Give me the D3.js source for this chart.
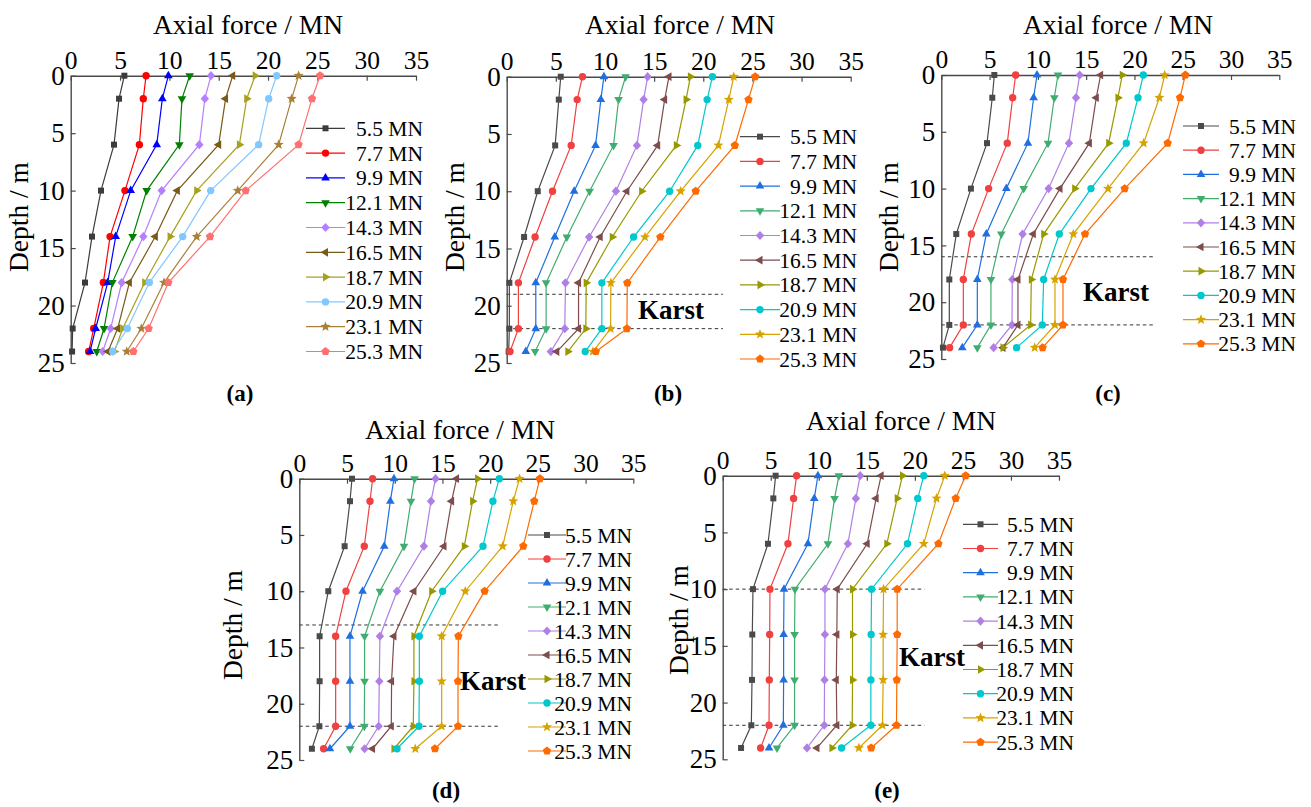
<!DOCTYPE html>
<html><head><meta charset="utf-8">
<script src="https://cdn.jsdelivr.net/npm/d3@7"></script>
<style>
body{margin:0;background:#fff}
svg{display:block}
text{font-family:"Liberation Serif","Times New Roman",serif;fill:#000}
</style>
</head><body>
<svg id="chart" width="1311" height="807"></svg>
<script>
// ---------- data ----------
const depths = [0, 2, 6, 10, 14, 18, 22, 24];
const loads = ["5.5 MN","7.7 MN","9.9 MN","12.1 MN","14.3 MN","16.5 MN","18.7 MN","20.9 MN","23.1 MN","25.3 MN"];
const xTicks = [0, 5, 10, 15, 20, 25, 30, 35];
const yTicks = [0, 5, 10, 15, 20, 25];
const panelTags = ["(a)", "(b)", "(c)", "(d)", "(e)"];

const forceA = [
 [5.44,4.9,4.39,3.07,2.16,1.45,0.2,0.14],
 [7.64,7.36,6.96,5.5,3.99,3.31,2.33,1.82],
 [9.9,9.29,8.72,6.08,4.56,3.75,2.53,1.96],
 [12.06,11.28,11.01,7.7,6.28,4.22,3.38,2.64],
 [14.22,13.6,13.04,9.22,7.36,5.17,4.05,3.24],
 [16.42,15.7,15.0,10.81,8.58,5.95,4.76,3.78],
 [18.7,17.84,17.1,12.77,10.07,7.5,5.27,4.43],
 [20.88,20.07,19.05,14.19,11.35,7.97,5.74,4.26],
 [23.1,22.4,21.08,16.93,12.77,9.46,7.16,5.68],
 [25.27,24.46,23.1,17.74,14.12,9.9,7.9,6.35]
];
const forceB = [
 [5.5,5.3,4.93,3.16,1.77,0.27,0.27,0.2],
 [7.71,7.17,6.56,4.66,2.89,1.19,1.19,0.34],
 [9.89,9.58,9.04,6.86,4.89,2.96,2.96,1.94],
 [12.1,11.38,10.87,8.43,6.12,4.01,4.01,2.89],
 [14.34,13.93,13.25,11.11,8.39,5.98,5.91,4.49],
 [16.51,16.07,15.36,12.23,9.51,7.31,7.31,5.1],
 [18.69,18.25,17.26,13.73,10.74,8.09,8.05,6.22],
 [20.93,20.39,19.44,16.58,12.91,9.68,9.68,7.99],
 [23.1,22.6,21.54,17.7,14.07,10.6,10.57,8.77],
 [25.28,24.6,23.21,19.23,15.63,12.27,12.23,9.07]
];
const forceC = [
 [5.49,5.28,4.73,3.07,1.55,0.83,0.83,0.17],
 [7.7,7.39,6.83,4.9,3.11,2.28,2.28,0.86],
 [9.91,9.56,8.97,6.73,4.66,3.73,3.73,2.17],
 [12.08,11.7,11.05,8.53,6.21,5.14,5.14,3.73],
 [14.33,13.95,13.22,11.11,8.42,7.35,7.32,5.42],
 [16.5,16.05,15.33,12.29,9.53,7.94,7.94,6.39],
 [18.74,18.29,17.33,13.81,10.6,9.32,9.25,6.39],
 [20.92,20.37,19.16,15.5,12.22,10.6,10.46,7.8],
 [23.13,22.58,20.95,17.26,13.67,11.77,11.77,9.67],
 [25.27,24.72,23.44,18.99,14.88,12.6,12.6,10.49]
];
const forceD = [
 [5.52,5.31,4.75,3.04,2.13,2.13,2.10,1.32],
 [7.68,7.41,6.81,4.89,3.81,3.81,3.81,2.55],
 [9.92,9.54,8.90,6.63,5.31,5.31,5.31,3.21],
 [12.08,11.70,10.97,8.45,6.84,6.84,6.81,5.34],
 [14.28,13.80,13.06,10.24,8.45,8.38,8.32,6.84],
 [16.48,15.96,15.16,12.01,9.92,9.67,9.64,7.68],
 [18.68,18.16,17.29,13.87,12.01,12.01,11.94,9.92],
 [20.96,20.29,19.25,15.02,12.58,12.58,12.54,10.24],
 [23.08,22.42,21.31,17.39,14.92,14.92,14.92,12.15],
 [25.21,24.62,23.47,19.42,16.67,16.63,16.63,14.21]
];
const forceE = [
 [5.51,5.27,4.71,3.15,3.08,3.05,2.98,1.91],
 [7.69,7.38,6.79,4.92,4.89,4.85,4.82,3.95],
 [9.91,9.53,8.87,6.38,6.34,6.34,6.31,4.82],
 [12.09,11.64,10.95,7.52,7.48,7.48,7.48,5.65],
 [14.31,13.86,13.03,10.64,10.64,10.6,10.57,8.77],
 [16.49,15.97,15.04,11.92,11.88,11.82,11.88,9.81],
 [18.71,18.16,17.08,13.51,13.51,13.51,13.48,11.37],
 [20.93,20.3,19.23,15.49,15.45,15.42,15.42,12.37],
 [23.11,22.25,20.93,16.74,16.7,16.7,16.63,14.17],
 [25.29,24.25,22.45,18.16,18.16,18.12,18.09,15.45]
];
// karst layer depth bounds (m) and the force the dashed line reaches (MN)
const karstB = [19, 22], karstC = [16, 22], karstD = [13, 22], karstE = [10, 22];
const karstReach = [null, 22, 22, 21, 21];

// ---------- styles ----------
const colorsA = ["#3c3c3c","#ff0000","#0000ff","#008000","#b580ff","#7a5a18","#a8a020","#80c8ff","#a88038","#ff7070"];
const colorsBE = ["#4a4a4a","#f04040","#1f6fe0","#40ad70","#b07fe6","#7d4c4c","#989800","#00c8cc","#d6a300","#ff6a00"];
const markerTypes = ["square","circle","triUp","triDown","diamond","triLeft","triRight","circle","star","pentagon"];

function poly(n, R, a0){
  const pts=[];
  for(let i=0;i<n;i++){const a=a0+i*2*Math.PI/n; pts.push([R*Math.cos(a),R*Math.sin(a)]);}
  return "M"+pts.map(p=>p[0].toFixed(2)+","+p[1].toFixed(2)).join("L")+"Z";
}
function markerPath(t){
  const d=Math.PI/180;
  switch(t){
    case "square": return "M-3,-3H3V3H-3Z";
    case "circle": return d3.symbol(d3.symbolCircle, Math.PI*3.7*3.7)();
    case "triUp": return poly(3,5,-90*d);
    case "triDown": return poly(3,5,90*d);
    case "triLeft": return poly(3,5,180*d);
    case "triRight": return poly(3,5,0);
    case "diamond": return "M0,-4.6L4.2,0L0,4.6L-4.2,0Z";
    case "pentagon": return poly(5,4.4,-90*d);
    case "star": {
      const pts=[];
      for(let i=0;i<10;i++){const R=i%2?2.3:5.3;const a=-90*d+i*36*d;pts.push([R*Math.cos(a),R*Math.sin(a)]);}
      return "M"+pts.map(p=>p[0].toFixed(2)+","+p[1].toFixed(2)).join("L")+"Z";
    }
  }
}

const panels = [
 {data:forceA, colors:colorsA, x0:70.7, x1:416, y0:75.7, y1:363, karst:null,
  legend:{lx1:306,lx2:345,tx:423,y0:128.3,dy:24.8}, title:{x:248,y:34}, ylab:{x:28,y:217}, tag:{x:240,y:401}},
 {data:forceB, colors:colorsBE, x0:506.7, x1:850.7, y0:76.7, y1:363, karst:karstB, klabel:{x:671,y:319},
  legend:{lx1:740,lx2:780,tx:857,y0:136.7,dy:24.7}, title:{x:680,y:34}, ylab:{x:464,y:217}, tag:{x:668,y:401}},
 {data:forceC, colors:colorsBE, x0:941.3, x1:1279.3, y0:75, y1:359, karst:karstC, klabel:{x:1116,y:301},
  legend:{lx1:1183,lx2:1219,tx:1296,y0:126,dy:24.2}, title:{x:1118,y:34}, ylab:{x:898,y:217}, tag:{x:1108,y:401}},
 {data:forceD, colors:colorsBE, x0:299.3, x1:633.3, y0:478.7, y1:760, karst:karstD, klabel:{x:493,y:690},
  legend:{lx1:528,lx2:566,tx:632,y0:535,dy:24.0}, title:{x:460,y:439}, ylab:{x:242,y:625}, tag:{x:446,y:798}},
 {data:forceE, colors:colorsBE, x0:722.7, x1:1059, y0:475.7, y1:759.3, karst:karstE, klabel:{x:932,y:666},
  legend:{lx1:963,lx2:998,tx:1074,y0:524.3,dy:24.2}, title:{x:901,y:430}, ylab:{x:688,y:620}, tag:{x:887,y:798}}
];

const svg = d3.select("#chart");
const axisColor = "#4a4a4a";

panels.forEach((p, pi) => {
  const x = d3.scaleLinear().domain([0,35]).range([p.x0, p.x1]);
  const y = d3.scaleLinear().domain([0,25]).range([p.y0, p.y1]);
  const g = svg.append("g");

  // karst dashed lines
  if (p.karst) {
    g.selectAll(".karst").data(p.karst).join("line")
      .attr("x1", x(0)).attr("x2", x(karstReach[pi]))
      .attr("y1", d => y(d)).attr("y2", d => y(d))
      .attr("stroke", "#333").attr("stroke-width", 1).attr("stroke-dasharray", "3.5,3");
    g.append("text").attr("x", p.klabel.x).attr("y", p.klabel.y)
      .attr("text-anchor","middle").attr("font-size", 27).attr("font-weight","bold").text("Karst");
  }

  // axes
  const ax = g.append("g").attr("transform", `translate(0,${p.y0})`)
    .call(d3.axisTop(x).tickValues(xTicks).tickSize(-5).tickSizeOuter(0).tickPadding(7));
  const ay = g.append("g").attr("transform", `translate(${p.x0},0)`)
    .call(d3.axisLeft(y).tickValues(yTicks).tickSize(-5).tickSizeOuter(0).tickPadding(6));
  [ax, ay].forEach(a => {
    a.select(".domain").attr("stroke", axisColor).attr("stroke-width", 1.4);
    a.selectAll(".tick line").attr("stroke", axisColor).attr("stroke-width", 1.2);
    a.selectAll(".tick text").attr("font-family", '"Liberation Serif",serif').attr("fill","#000");
  });
  ax.selectAll(".tick text").attr("font-size", 25.5);
  ay.selectAll(".tick text").attr("font-size", 27);

  // series
  const line = d3.line().x(d => x(d.v)).y(d => y(d.z));
  p.data.forEach((vals, si) => {
    const pts = vals.map((v, i) => ({v, z: depths[i]}));
    const c = p.colors[si];
    g.append("path").datum(pts).attr("d", line).attr("fill","none")
      .attr("stroke", c).attr("stroke-width", 1.2);
    g.selectAll(null).data(pts).join("path")
      .attr("transform", d => `translate(${x(d.v)},${y(d.z)})`)
      .attr("d", markerPath(markerTypes[si])).attr("fill", c);
  });

  // legend
  const L = p.legend;
  loads.forEach((lab, si) => {
    const yy = L.y0 + si * L.dy;
    const c = p.colors[si];
    g.append("line").attr("x1", L.lx1).attr("x2", L.lx2).attr("y1", yy).attr("y2", yy)
      .attr("stroke", c).attr("stroke-width", 1.2);
    g.append("path").attr("transform", `translate(${(L.lx1+L.lx2)/2},${yy})`)
      .attr("d", markerPath(markerTypes[si])).attr("fill", c);
    g.append("text").attr("x", L.tx).attr("y", yy).attr("dy","0.35em")
      .attr("text-anchor","end").attr("font-size", 21.5).text(lab);
  });

  // titles
  g.append("text").attr("x", p.title.x).attr("y", p.title.y).attr("text-anchor","middle")
    .attr("font-size", 27.5).text("Axial force / MN");
  g.append("text").attr("transform", `translate(${p.ylab.x},${p.ylab.y}) rotate(-90)`)
    .attr("text-anchor","middle").attr("font-size", 27.5).text("Depth / m");
  g.append("text").attr("x", p.tag.x).attr("y", p.tag.y).attr("text-anchor","middle")
    .attr("font-size", 23).attr("font-weight","bold").text(panelTags[pi]);
});
</script>
</body></html>
